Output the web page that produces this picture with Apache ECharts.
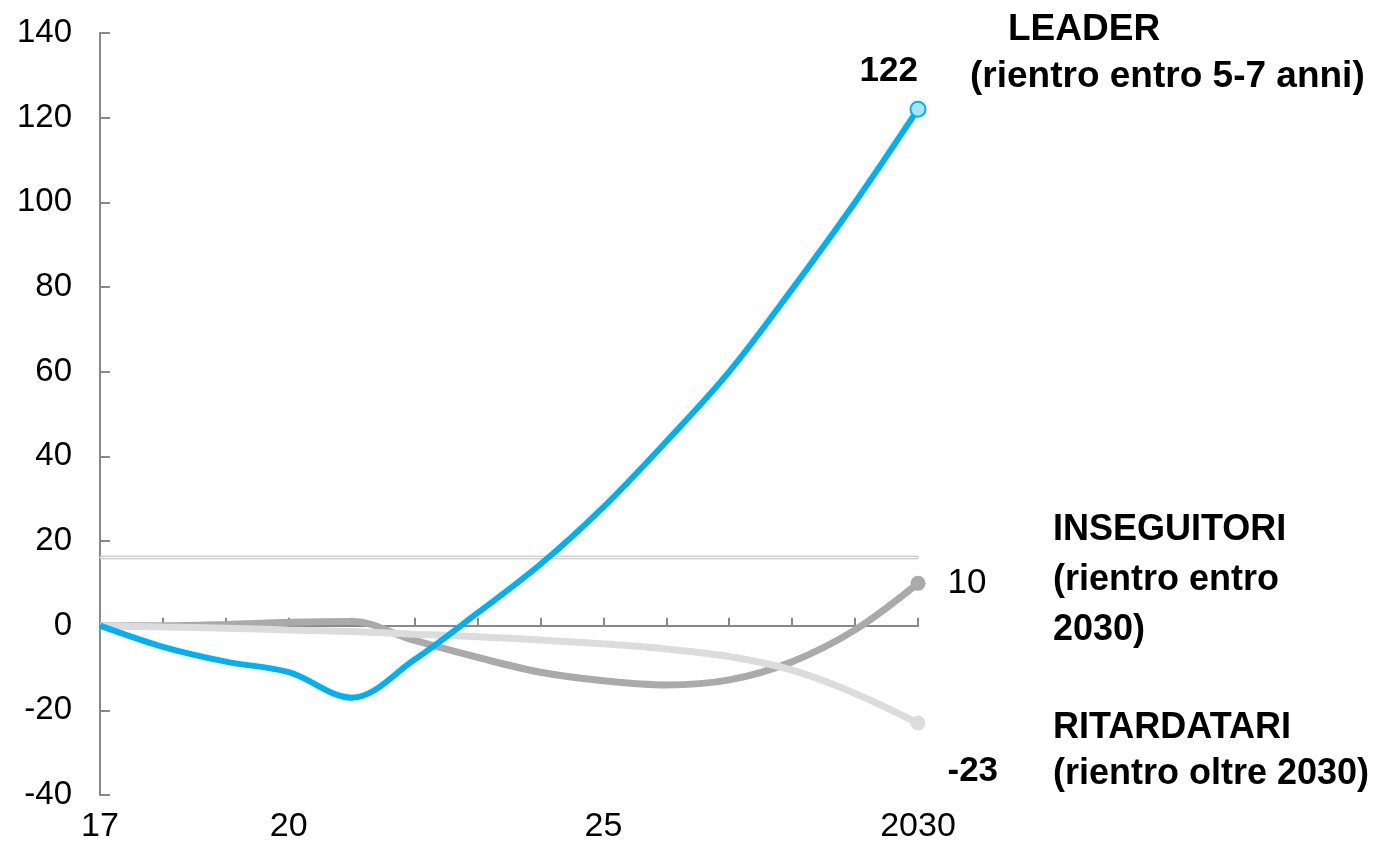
<!DOCTYPE html>
<html>
<head>
<meta charset="utf-8">
<script src="https://cdn.jsdelivr.net/npm/echarts@6/dist/echarts.min.js"></script>
<style>
  html, body { margin: 0; padding: 0; background: #fff; }
  #chart { width: 1380px; height: 844px; }
</style>
</head>
<body>
<div id="chart"></div>
<script>
// anni 2017..2030
const years = [2017, 2018, 2019, 2020, 2021, 2022, 2023, 2024, 2025, 2026, 2027, 2028, 2029, 2030]
// etichette asse x (vuote dove non c'è testo)
const yearLabels = { 2017: '17', 2020: '20', 2025: '25', 2030: '2030' }

const leader = [0, -5, -8.5, -11, -17, -8, 3, 14.5, 28, 43.5, 60, 79.5, 100, 122]
const inseguitori = [0, 0, 0.3, 0.8, 1, -3.5, -7.5, -11, -13, -14, -12.8, -8.5, -1, 10]
const ritardatari = [0, -0.3, -0.6, -1, -1.4, -2, -2.6, -3.4, -4.3, -5.5, -7.3, -10.5, -16, -23]

const FONT = 'Liberation Sans, Arial, sans-serif'

/**
 * costruisce i punti della serie, solo l'ultimo ha simbolo + etichetta
 */
function buildData(values, lastLabel) {
	return values.map((v, i) => {
		const item = { value: [years[i], v] }
		if (i === values.length - 1) {
			item.label = Object.assign({ show: true, fontFamily: FONT, color: '#000' }, lastLabel)
		}
		return item
	})
}

function lastOnly(val, params) {
	return params.dataIndex === years.length - 1 ? 15 : 0
}

const chart = echarts.init(document.getElementById('chart'))

const option = {
	animation: false,
	grid: { left: 100, right: 462, top: 33, bottom: 48 },
	xAxis: [
		{
			// asse sullo zero con le tacche verso l'alto
			type: 'value',
			min: 2017, max: 2030, interval: 1,
			axisLine: { onZero: true, lineStyle: { color: '#888', width: 2 } },
			axisTick: { show: true, inside: true, length: 8, lineStyle: { color: '#888', width: 2 } },
			axisLabel: { show: false },
			splitLine: { show: false },
		},
		{
			// solo etichette in basso
			type: 'value',
			position: 'bottom',
			min: 2017, max: 2030, interval: 1,
			axisLine: { show: false, onZero: false },
			axisTick: { show: false },
			splitLine: { show: false },
			axisLabel: {
				show: true,
				margin: 15,
				fontSize: 34,
				fontFamily: FONT,
				color: '#000',
				showMinLabel: true, showMaxLabel: true,
				formatter: v => yearLabels[v] || '',
			},
		},
	],
	yAxis: {
		type: 'value',
		min: -40, max: 140, interval: 20,
		axisLine: { show: true, lineStyle: { color: '#888', width: 2 } },
		axisTick: { show: true, inside: true, length: 10, lineStyle: { color: '#888', width: 2 } },
		splitLine: { show: false },
		axisLabel: { margin: 28, fontSize: 33, fontFamily: FONT, color: '#000' },
	},
	series: [
		{
			name: 'INSEGUITORI',
			type: 'line',
			smooth: 0.35,
			z: 2,
			symbol: 'circle',
			symbolSize: lastOnly,
			lineStyle: { color: '#AAAAAA', width: 7 },
			itemStyle: { color: '#AAAAAA' },
			data: buildData(inseguitori, { position: 'right', distance: 22, fontSize: 35 }),
		},
		{
			name: 'RITARDATARI',
			type: 'line',
			smooth: 0.35,
			z: 3,
			symbol: 'circle',
			symbolSize: lastOnly,
			lineStyle: { color: '#DCDCDC', width: 7 },
			itemStyle: { color: '#DCDCDC' },
			data: buildData(ritardatari, { position: 'right', distance: 22, offset: [0, 48], fontSize: 35, fontWeight: 'bold' }),
		},
		{
			name: 'LEADER',
			type: 'line',
			smooth: 0.35,
			z: 4,
			symbol: 'circle',
			symbolSize: lastOnly,
			lineStyle: { color: '#00B0F0', width: 6 },
			itemStyle: { color: '#A8E4F7', borderColor: '#00B0F0', borderWidth: 2 },
			data: buildData(leader, { position: 'top', distance: 12, align: 'right', fontSize: 35, fontWeight: 'bold' }),
		},
		{
			// doppia linea orizzontale (interruzione)
			name: 'break',
			type: 'line',
			z: 10,
			data: [],
			markArea: {
				silent: true,
				itemStyle: { color: '#fff', borderColor: '#BBBBBB', borderWidth: 1 },
				data: [[{ yAxis: 15.8 }, { yAxis: 16.4 }]],
			},
		},
	],
	graphic: [
		{ type: 'text', left: 1008, top: 11, style: { text: 'LEADER', font: 'bold 37px ' + FONT, fill: '#000' } },
		{ type: 'text', left: 970, top: 58, style: { text: '(rientro entro 5-7 anni)', font: 'bold 37px ' + FONT, fill: '#000' } },
		{ type: 'text', left: 1053, top: 505, style: { text: 'INSEGUITORI\n(rientro entro\n2030)', font: 'bold 36px ' + FONT, lineHeight: 50, fill: '#000' } },
		{ type: 'text', left: 1053, top: 705, style: { text: 'RITARDATARI\n(rientro oltre 2030)', font: 'bold 36px ' + FONT, lineHeight: 46, fill: '#000' } },
	],
}

chart.setOption(option)
</script>
</body>
</html>
